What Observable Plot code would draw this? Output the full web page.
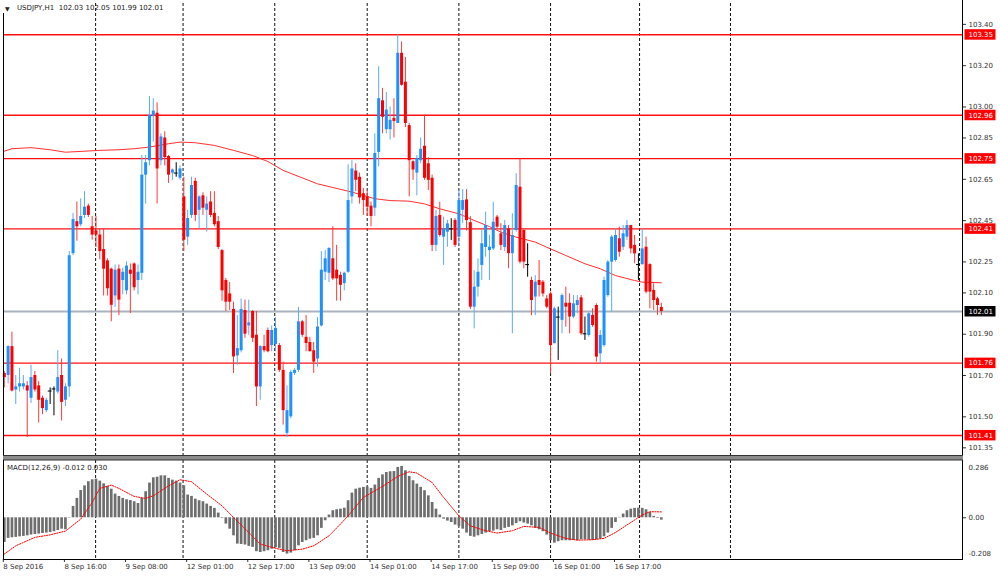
<!DOCTYPE html>
<html><head><meta charset="utf-8">
<script src="https://cdn.jsdelivr.net/npm/d3@7"></script>
<script src="https://cdn.jsdelivr.net/npm/@observablehq/plot@0.6"></script>
<style>
body{margin:0;background:#fff;}
#wrap{position:relative;width:1000px;height:579px;overflow:hidden;font-family:"DejaVu Sans",sans-serif;}
#wrap svg{position:absolute;left:0;overflow:visible;}
.lbl{position:absolute;font-size:7px;color:#222;white-space:pre;line-height:7px;}
</style></head><body><div id="wrap"></div>
<script>
// ---- OHLC (USDJPY H1), bar 0 = 8 Sep 2016 00:00 ----
const open = [101.71,101.70,101.84,101.63,101.645,101.645,101.65,101.59,101.70,101.65,101.59,101.53,101.625,101.635,101.62,101.70,101.58,101.645,102.29,102.445,
102.43,102.475,102.52,102.42,102.40,102.38,102.31,102.255,102.215,102.085,102.215,102.16,102.11,102.21,102.24,102.16,102.195,102.67,102.74,102.955,
102.97,102.74,102.85,102.76,102.68,102.68,102.655,102.565,102.37,102.475,102.64,102.50,102.57,102.50,102.54,102.485,102.445,102.305,102.16,102.095,
102.02,101.795,101.82,102.015,101.94,102.01,101.895,101.645,101.84,101.918,101.845,101.85,101.845,101.725,101.42,101.50,101.71,101.725,101.96,101.885,
101.86,101.82,101.78,101.94,102.20,102.195,102.265,102.21,102.185,102.145,102.20,102.565,102.69,102.66,102.58,102.565,102.52,102.51,102.78,103.03,
102.89,102.89,102.945,102.92,103.26,103.12,102.91,102.735,102.68,102.74,102.81,102.725,102.655,102.33,102.475,102.37,102.394,102.41,102.451,102.37,
102.50,102.55,102.44,102.031,102.128,102.233,102.32,102.305,102.313,102.467,102.386,102.32,102.41,102.29,102.402,102.612,102.402,102.237,102.16,102.08,
102.16,102.152,102.071,102.095,101.854,101.983,101.967,102.05,102.05,101.983,102.039,102.076,101.902,101.894,101.991,102.039,101.805,101.845,102.087,102.249,
102.257,102.362,102.321,102.37,102.426,102.33,102.237,102.237,102.321,102.237,102.112,102.071,102.03];
const high = [101.72,101.845,101.91,101.70,101.735,101.70,101.67,101.75,101.72,101.67,101.60,101.59,101.64,101.645,101.82,101.78,101.66,102.30,102.485,102.54,
102.555,102.59,102.53,102.47,102.47,102.41,102.41,102.265,102.22,102.235,102.235,102.22,102.25,102.24,102.245,102.235,102.765,102.765,103.05,103.04,
103.02,102.87,102.88,102.765,102.70,102.73,102.715,102.66,102.50,102.66,102.655,102.57,102.585,102.565,102.59,102.59,102.47,102.31,102.17,102.15,
102.055,101.99,102.07,102.065,102.065,102.015,102.01,101.845,101.895,101.93,101.94,101.98,101.855,101.765,101.65,101.725,101.735,102.03,101.967,101.99,
101.885,101.86,101.98,102.30,102.305,102.32,102.42,102.33,102.20,102.20,102.72,102.74,102.725,102.68,102.605,102.595,102.54,102.87,103.195,103.09,
103.07,103.00,103.04,103.35,103.315,103.24,102.92,102.74,102.765,102.85,102.96,102.755,102.67,102.50,102.539,102.467,102.451,102.459,102.46,102.596,
102.60,102.60,102.47,102.208,102.265,102.402,102.491,102.378,102.539,102.475,102.435,102.451,102.426,102.483,102.677,102.75,102.41,102.338,102.176,102.184,
102.257,102.16,102.087,102.104,102.031,102.031,102.095,102.128,102.095,102.087,102.087,102.087,101.983,102.007,102.023,102.047,101.918,102.176,102.257,102.378,
102.41,102.418,102.426,102.451,102.426,102.378,102.289,102.41,102.37,102.241,102.144,102.079,102.05];
const low = [101.64,101.66,101.62,101.56,101.62,101.63,101.40,101.565,101.62,101.47,101.51,101.52,101.56,101.505,101.61,101.48,101.55,101.595,102.28,102.35,
102.42,102.46,102.465,102.355,102.32,102.26,102.085,102.085,101.96,102.03,101.99,102.09,102.09,102.00,102.11,102.09,102.16,102.53,102.715,102.83,
102.53,102.715,102.715,102.63,102.645,102.66,102.645,102.30,102.33,102.46,102.445,102.41,102.475,102.395,102.465,102.42,102.31,102.06,102.01,102.015,
101.71,101.75,101.81,101.88,101.895,101.86,101.55,101.58,101.81,101.81,101.815,101.815,101.715,101.46,101.40,101.49,101.70,101.715,101.885,101.815,
101.815,101.71,101.74,101.935,102.16,102.15,102.16,102.06,102.06,102.11,102.195,102.53,102.59,102.53,102.475,102.47,102.42,102.47,102.71,102.87,
102.87,102.84,102.85,102.92,103.10,102.90,102.565,102.645,102.57,102.725,102.645,102.596,102.30,102.30,102.37,102.233,102.321,102.354,102.32,102.33,
102.435,102.40,102.02,101.926,102.08,102.16,102.273,102.16,102.305,102.41,102.305,102.30,102.217,101.902,102.394,102.24,102.217,102.176,101.99,101.99,
102.08,102.08,102.023,101.708,101.854,101.773,101.902,101.934,101.902,101.975,101.999,101.894,101.87,101.886,101.934,101.765,101.757,101.837,102.079,102.007,
102.249,102.273,102.305,102.354,102.289,102.241,102.16,102.233,102.095,102.023,102.015,101.991,101.99];
const close = [101.69,101.84,101.625,101.645,101.66,101.66,101.625,101.69,101.63,101.58,101.54,101.58,101.625,101.635,101.69,101.57,101.645,102.28,102.455,102.42,
102.47,102.515,102.475,102.38,102.38,102.30,102.215,102.12,102.04,102.21,102.065,102.20,102.23,102.19,102.125,102.20,102.67,102.73,102.96,102.98,
102.70,102.855,102.755,102.67,102.695,102.68,102.70,102.355,102.46,102.62,102.475,102.565,102.51,102.53,102.475,102.43,102.32,102.11,102.055,102.055,
101.79,101.83,102.02,101.90,101.955,101.88,101.645,101.84,101.82,101.815,101.918,101.928,101.725,101.53,101.53,101.715,101.725,101.96,101.895,101.855,
101.815,101.765,101.935,102.21,102.265,102.315,102.168,102.168,102.137,102.195,102.547,102.70,102.645,102.56,102.547,102.515,102.47,102.775,103.04,102.95,
102.985,102.935,102.93,103.26,103.105,102.92,102.74,102.695,102.75,102.795,102.655,102.645,102.33,102.47,102.378,102.41,102.434,102.41,102.33,102.547,
102.547,102.45,102.031,102.128,102.20,102.338,102.426,102.321,102.442,102.418,102.33,102.426,102.29,102.378,102.62,102.249,102.249,102.237,102.063,102.152,
102.136,102.095,102.031,101.845,102.023,101.983,102.087,102.031,101.983,102.047,102.063,101.902,101.902,101.999,101.942,101.789,101.894,102.16,102.249,102.37,
102.378,102.297,102.386,102.426,102.313,102.289,102.237,102.313,102.104,102.104,102.063,102.039,102.01];

// ---- moving average (read at sample bars) ----
const maBar = [0,2,7,12,16,21,25,30,34,38,43,46,50,55,60,65,69,73,82,91,97,101,106,110,114,119,123,127,130,134,139,143,147,152,156,160,165,167,172];
const maValue = [102.786,102.798,102.803,102.793,102.781,102.786,102.79,102.793,102.798,102.806,102.822,102.83,102.827,102.814,102.79,102.765,102.736,102.693,102.628,102.588,102.556,102.547,102.544,102.531,102.507,102.483,102.451,102.421,102.394,102.37,102.346,102.313,102.281,102.241,102.217,102.184,102.16,102.152,102.149];

// ---- MACD(12,26,9) main (histogram) per bar ----
const macdMain = [-0.126,-0.105,-0.102,-0.100,-0.097,-0.095,-0.092,-0.088,-0.085,-0.083,-0.080,-0.078,-0.075,-0.071,-0.065,-0.058,-0.061,-0.002,0.058,0.099,
0.139,0.163,0.184,0.194,0.197,0.187,0.173,0.160,0.146,0.121,0.109,0.099,0.092,0.088,0.082,0.073,0.099,0.133,0.177,0.204,
0.207,0.214,0.214,0.201,0.192,0.187,0.177,0.163,0.116,0.109,0.095,0.087,0.082,0.070,0.058,0.048,0.024,-0.003,-0.032,-0.058,
-0.092,-0.134,-0.136,-0.139,-0.146,-0.151,-0.173,-0.177,-0.173,-0.168,-0.160,-0.153,-0.156,-0.177,-0.185,-0.180,-0.168,-0.143,-0.126,-0.117,
-0.109,-0.105,-0.092,-0.054,-0.015,0.014,0.036,0.041,0.044,0.049,0.087,0.126,0.146,0.151,0.155,0.158,0.150,0.167,0.201,0.219,
0.231,0.235,0.236,0.257,0.262,0.240,0.211,0.189,0.172,0.155,0.138,0.112,0.078,0.044,0.014,-0.007,-0.017,-0.024,-0.037,-0.044,
-0.058,-0.078,-0.095,-0.099,-0.092,-0.085,-0.078,-0.071,-0.068,-0.061,-0.065,-0.054,-0.049,-0.041,-0.029,-0.020,-0.027,-0.032,-0.041,-0.054,
-0.061,-0.071,-0.088,-0.117,-0.129,-0.122,-0.117,-0.117,-0.117,-0.116,-0.117,-0.112,-0.112,-0.114,-0.116,-0.112,-0.109,-0.097,-0.078,-0.054,
-0.024,0.002,0.019,0.036,0.044,0.048,0.049,0.048,0.041,0.027,0.007,-0.003,-0.012];
// ---- MACD signal line (read at sample bars) ----
const sigBar = [0,3,8,12,16,20,23,25,28,30,34,37,39,43,46,49,53,57,60,64,67,71,74,78,81,85,88,90,94,99,103,106,108,112,115,119,122,126,129,133,136,140,143,147,150,154,157,160,164,167,169,172];
const sigValue = [-0.185,-0.143,-0.100,-0.087,-0.068,-0.007,0.078,0.150,0.167,0.150,0.109,0.099,0.112,0.163,0.194,0.184,0.121,0.061,0.002,-0.075,-0.134,-0.156,-0.168,-0.160,-0.143,-0.092,-0.032,0.010,0.104,0.160,0.211,0.235,0.228,0.180,0.104,0.010,-0.041,-0.066,-0.078,-0.066,-0.044,-0.049,-0.078,-0.105,-0.114,-0.112,-0.105,-0.075,-0.024,0.014,0.031,0.030];

// ---- levels, ticks, labels ----
const levels = [103.35,102.96,102.75,102.41,101.76,101.41];
const current = 102.01;
const priceTicks = [103.40,103.20,103.00,102.85,102.65,102.45,102.25,102.10,101.90,101.70,101.50,101.35];
const macdTop = 0.286, macdBottom = -0.208;
const gridBars = [23.9,46.8,70.8,95,119,143,166.3,190.1];
const timeBars = [0,16,32,48,64,80,96,112,128,144,160];
const timeLabels = ["8 Sep 2016","8 Sep 16:00","9 Sep 08:00","12 Sep 01:00","12 Sep 17:00","13 Sep 09:00","14 Sep 01:00","14 Sep 17:00","15 Sep 09:00","16 Sep 01:00","16 Sep 17:00"];

const bars = open.map((o,i)=>{
  const c = close[i];
  const up = c>o, dn = c<o;
  return {i, open:o, high:high[i], low:low[i], close:c,
    body: up ? "#1e90ff" : dn ? "#ff0000" : "#000000",
    wick: up ? "#5aaaff" : dn ? "#ff3a3a" : "#000000"};
});
const ma = maBar.map((b,k)=>({i:b, v:maValue[k]}));
const hist = macdMain.map((v,i)=>({i, v}));
const sig = sigBar.map((b,k)=>({i:b, v:sigValue[k]}));

// rectangular price-tag symbol drawn to the right of the plot frame
const tagSymbol = {draw(ctx){ ctx.moveTo(2,-5.5); ctx.lineTo(33,-5.5); ctx.lineTo(33,5); ctx.lineTo(2,5); ctx.closePath(); }};

const xDomain = [-0.21, 250.84];
const font = {fontFamily:"DejaVu Sans", fontSize:"7px", color:"#222", background:"transparent", overflow:"visible"};

const main = Plot.plot({
  width:1000, height:460, marginLeft:3, marginRight:38, marginTop:3, marginBottom:4,
  x:{domain:xDomain, axis:null},
  y:{domain:[101.308,103.501], axis:null},
  color:{type:"identity"},
  style:font,
  marks:[
    Plot.ruleX(gridBars,{stroke:"#111",strokeDasharray:"3,2",strokeWidth:1}),
    Plot.ruleY([current],{stroke:"#aab3bd",strokeWidth:1.8}),
    Plot.ruleY(levels,{stroke:"#ff1010",strokeWidth:1.4}),
    Plot.line(ma,{x:"i",y:"v",stroke:"#ff3030",strokeWidth:1}),
    Plot.ruleX(bars,{x:"i",y1:"low",y2:"high",stroke:"wick",strokeWidth:1}),
    Plot.ruleX(bars.filter(d=>d.open!==d.close),{x:"i",y1:"open",y2:"close",stroke:"body",strokeWidth:3}),
    Plot.ruleY(bars.filter(d=>d.open===d.close),{y:"close",x1:d=>d.i-0.5,x2:d=>d.i+0.5,stroke:"#000",strokeWidth:1}),
    Plot.axisY({anchor:"right",ticks:priceTicks,tickSize:3,tickPadding:3,tickFormat:d=>d.toFixed(2),textAnchor:"start",fill:"#333",stroke:"#333",label:null}),
    Plot.dot(levels,{y:d=>d,frameAnchor:"right",symbol:tagSymbol,fill:"#ff0000",stroke:null}),
    Plot.dot([current],{y:d=>d,frameAnchor:"right",symbol:tagSymbol,fill:"#000000",stroke:null}),
    Plot.text(levels,{y:d=>d,text:d=>d.toFixed(2),frameAnchor:"right",dx:6,textAnchor:"start",fill:"#fff"}),
    Plot.text([current],{y:d=>d,text:d=>d.toFixed(2),frameAnchor:"right",dx:6,textAnchor:"start",fill:"#fff"})
  ]
});

const macd = Plot.plot({
  width:1000, height:122, marginLeft:3, marginRight:38, marginTop:3, marginBottom:20,
  x:{domain:xDomain, axis:null},
  y:{domain:[-0.2128,0.2923], axis:null},
  style:font,
  marks:[
    Plot.ruleX(gridBars,{stroke:"#111",strokeDasharray:"3,2",strokeWidth:1}),
    Plot.ruleX(hist,{x:"i",y1:0,y2:"v",stroke:"#6e6e6e",strokeWidth:2.7}),
    Plot.line(sig,{x:"i",y:"v",stroke:"#ff0000",strokeWidth:1,strokeDasharray:"1.3,1.3"}),
    Plot.axisX({ticks:timeBars,tickSize:3,tickPadding:2,textAnchor:"start",dx:-1,fill:"#333",stroke:"#333",label:null,
      tickFormat:d=>timeLabels[timeBars.indexOf(d)]}),
    Plot.axisY({anchor:"right",ticks:[0],tickSize:3,tickPadding:3,tickFormat:()=>"0.00",textAnchor:"start",fill:"#333",stroke:"#333",label:null}),
    Plot.text([macdTop],{y:d=>d,text:d=>String(d),frameAnchor:"right",dx:6,dy:6,textAnchor:"start",fill:"#333"}),
    Plot.text([macdBottom],{y:d=>d,text:d=>String(d),frameAnchor:"right",dx:6,dy:-5,textAnchor:"start",fill:"#333"})
  ]
});

const wrap = document.getElementById("wrap");
main.style.top = "0px";
macd.style.top = "457px";
wrap.appendChild(main);
wrap.appendChild(macd);

// panel borders / separator (decoration)
const deco = d3.select(wrap).append("svg").attr("width",1000).attr("height",579).style("top","0px").style("pointer-events","none");
deco.append("line").attr("x1",3.5).attr("x2",3.5).attr("y1",13).attr("y2",456).attr("stroke","#000");
deco.append("line").attr("x1",962.5).attr("x2",962.5).attr("y1",0).attr("y2",559).attr("stroke","#000");
deco.append("rect").attr("x",3).attr("y",455.5).attr("width",960).attr("height",4.5).attr("fill","#8c8c8c");
deco.append("line").attr("x1",3).attr("x2",963).attr("y1",455.5).attr("y2",455.5).attr("stroke","#333");
deco.append("line").attr("x1",3).attr("x2",963).attr("y1",460).attr("y2",460).attr("stroke","#333");
deco.append("line").attr("x1",3.5).attr("x2",3.5).attr("y1",460).attr("y2",559).attr("stroke","#000");
deco.append("line").attr("x1",3).attr("x2",963).attr("y1",559.5).attr("y2",559.5).attr("stroke","#000");

// titles
const t1 = document.createElement("div"); t1.className="lbl"; t1.style.left="5px"; t1.style.top="5px"; t1.textContent="▼"; t1.style.fontSize="6px"; wrap.appendChild(t1);
const t2 = document.createElement("div"); t2.className="lbl"; t2.style.left="17px"; t2.style.top="4.5px"; t2.textContent="USDJPY,H1  102.03 102.05 101.99 102.01"; wrap.appendChild(t2);
const t3 = document.createElement("div"); t3.className="lbl"; t3.style.left="7px"; t3.style.top="465px"; t3.textContent="MACD(12,26,9) -0.012 0.030"; wrap.appendChild(t3);
</script></body></html>
